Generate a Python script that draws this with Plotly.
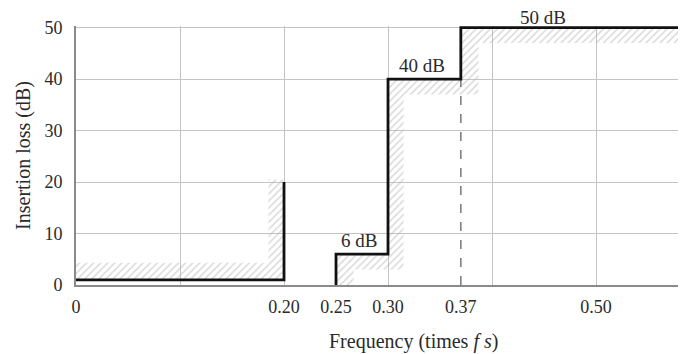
import plotly.graph_objects as go

# ---- data ----
# measured filter response (black step line); None separates the two pieces
resp_x = [0, 0.20, 0.20, None, 0.25, 0.25, 0.30, 0.30, 0.37, 0.37, 0.65]
resp_y = [1, 1, 20, None, 0, 6, 6, 40, 40, 50, 50]

# hatched specification bands
pass_mask_x = [0, 0.20, 0.20, 0.185, 0.185, 0]
pass_mask_y = [1, 1, 20.5, 20.5, 4.3, 4.3]

stop_mask_x = [0.25, 0.25, 0.30, 0.30, 0.37, 0.37, 0.65, 0.65, 0.387, 0.387, 0.315, 0.315, 0.267, 0.267]
stop_mask_y = [0, 6, 6, 40, 40, 50, 50, 47, 47, 37, 37, 3, 3, 0]

# dashed marker at 0.37
dash_x = [0.37, 0.37]
dash_y = [0, 40]

# level labels
label_x = [0.272, 0.333, 0.449]
label_y = [6, 40, 50]
label_text = ["6 dB", "40 dB", "50 dB"]

# axis ticks
xtick_vals = [0, 0.20, 0.25, 0.30, 0.37, 0.50]
xtick_text = ["0", "0.20", "0.25", "0.30", "0.37", "0.50"]
ytick_vals = [0, 10, 20, 30, 40, 50]

FONT = "Liberation Serif"
TXT = "#2a2a2a"

fig = go.Figure()

hatch = dict(shape="/", fgcolor="#b4b4b4", bgcolor="rgba(0,0,0,0)", size=5, solidity=0.3)
for mx, my in [(pass_mask_x, pass_mask_y), (stop_mask_x, stop_mask_y)]:
    fig.add_trace(go.Scatter(x=mx, y=my, mode="lines", fill="toself",
                             fillcolor="rgba(0,0,0,0)", fillpattern=hatch,
                             line=dict(width=0), hoverinfo="skip", showlegend=False))

fig.add_trace(go.Scatter(x=dash_x, y=dash_y, mode="lines",
                         line=dict(color="#808080", width=1.6, dash="dash"),
                         showlegend=False))
fig.add_trace(go.Scatter(x=resp_x, y=resp_y, mode="lines",
                         line=dict(color="#111111", width=2.8, shape="linear"),
                         connectgaps=False, showlegend=False))
# empty trace to instantiate the labelled overlay axis
fig.add_trace(go.Scatter(x=[], y=[], xaxis="x2", yaxis="y", showlegend=False))

for lx, ly, lt in zip(label_x, label_y, label_text):
    fig.add_annotation(x=lx, y=ly, text=lt, showarrow=False, yanchor="bottom",
                       yshift=(-1 if ly >= 50 else 2), borderpad=0,
                       font=dict(family=FONT, size=19, color=TXT))

fig.add_annotation(xref="paper", yref="paper", x=0.5525, y=0, yanchor="top", yshift=-43,
                   text="Frequency (times <i>f</i> <i>s</i>)", showarrow=False,
                   font=dict(family=FONT, size=20, color=TXT))

fig.update_layout(
    width=678, height=346,
    margin=dict(l=68, r=0, t=18, b=69),
    paper_bgcolor="white", plot_bgcolor="white",
    font=dict(family=FONT, size=18, color=TXT),
    xaxis=dict(range=[0, 0.5865], tickmode="linear", tick0=0, dtick=0.1,
               showticklabels=False, showgrid=True, gridcolor="#c4c4c4", gridwidth=1.4,
               zeroline=False, showline=True, linecolor="#8a8a8a", linewidth=2, ticks=""),
    xaxis2=dict(overlaying="x", matches="x", anchor="y", side="bottom",
                tickmode="array", tickvals=xtick_vals, ticktext=xtick_text,
                showgrid=False, zeroline=False, showline=False,
                ticks="outside", ticklen=5, tickcolor="rgba(0,0,0,0)",
                tickfont=dict(family=FONT, size=18, color=TXT)),
    yaxis=dict(range=[0, 50.3], tickmode="array", tickvals=ytick_vals,
               showgrid=True, gridcolor="#c4c4c4", gridwidth=1.4, zeroline=False,
               showline=True, linecolor="#8a8a8a", linewidth=2,
               ticks="outside", ticklen=8, tickcolor="rgba(0,0,0,0)",
               tickfont=dict(family=FONT, size=18, color=TXT),
               title=dict(text="Insertion loss (dB)", standoff=8,
                          font=dict(family=FONT, size=20, color=TXT))),
)

fig.write_html("out.html")
